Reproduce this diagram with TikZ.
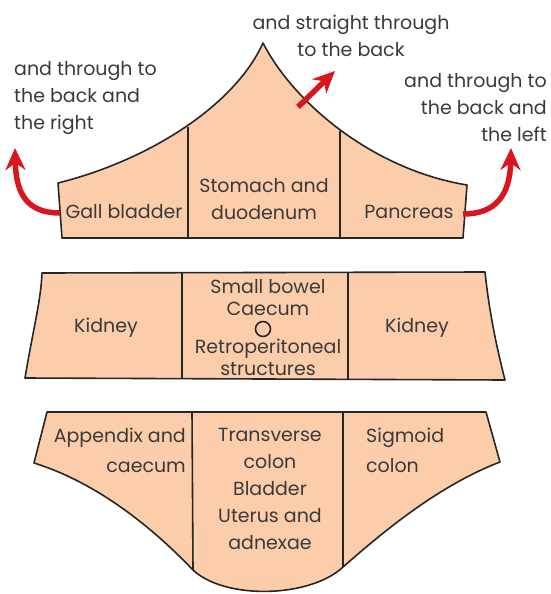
\documentclass[tikz,border=0pt]{standalone}
\usepackage{fontspec}
\setmainfont{Poppins}
\usetikzlibrary{arrows.meta}
\definecolor{peach}{HTML}{FBCDAB}
\definecolor{redarr}{HTML}{D9161F}
\definecolor{txt}{HTML}{3A3A3A}
\tikzset{
  organ/.style={fill=peach,draw=black!85,line width=1.6pt,line join=round},
  divider/.style={draw=black!85,line width=1.6pt},
  lbl/.style={inner sep=0pt,text=txt,font=\fontsize{19}{27}\selectfont},
  redarrow/.style={draw=redarr,line width=5.5pt,-{Stealth[length=22pt,width=20pt,inset=7pt]}}
}
\begin{document}
\begin{tikzpicture}[x=1pt,y=-1pt]
\useasboundingbox (0,0) rectangle (551,594);
% top region
\path[organ] (62,238) -- (58,183) .. controls (150,160) and (235,105) .. (263,43)
  .. controls (295,105) and (375,170) .. (467,185) -- (463,238) -- cycle;
\draw[divider] (188,127) -- (188,238);
\draw[divider] (340,131) -- (340,238);
% middle region
\path[organ] (25,378) .. controls (33,330) and (41,300) .. (42,273) -- (485,272)
  .. controls (489,310) and (496,345) .. (505,380) -- cycle;
\draw[divider] (182,272) -- (182,379);
\draw[divider] (348,272) -- (348,380);
% bottom region
\path[organ] (47,412) -- (486,412) -- (500,462) .. controls (440,485) and (385,530) .. (343,567)
  .. controls (310,598) and (225,600) .. (193,570)
  .. controls (150,525) and (95,482) .. (34,463) -- cycle;
\draw[divider] (192,412) -- (193,570);
\draw[divider] (343,412) -- (343,567);
% circle
\node[draw=black!85,line width=1.6pt,circle,minimum size=15pt,inner sep=0pt] (umb) at (263,329) {};
% top labels
\node[lbl] (gall) at (124,212) {Gall bladder};
\node[lbl,align=center] (stom) at (264,199) {Stomach and\\duodenum};
\node[lbl] (panc) at (409,212) {Pancreas};
% middle labels
\node[lbl] (kidl) at (106,328) {Kidney};
\node[lbl] (kidr) at (417,328) {Kidney};
\node[lbl] (sb) at (268,287) {Small bowel};
\node[lbl] (cae) at (268,309) {Caecum};
\node[lbl,align=center,font=\fontsize{19}{22}\selectfont] (retro) at (268,357) {Retroperitoneal\\structures};
% bottom labels
\node[lbl,align=right,anchor=east,font=\fontsize{19}{30}\selectfont] (app) at (186,450) {Appendix and\\caecum};
\node[lbl,align=center] (trans) at (270,489) {Transverse\\colon\\Bladder\\Uterus and\\adnexae};
\node[lbl,align=left,anchor=west,font=\fontsize{19}{30}\selectfont] (sig) at (366,450) {Sigmoid\\colon};
% direction labels
\node[lbl,align=left,anchor=west] (tl) at (14,98) {and through to\\the back and\\the right};
\node[lbl,align=center] (tc) at (351,36) {and straight through\\to the back};
\node[lbl,align=right,anchor=east] (tr) at (547,108) {and through to\\the back and\\the left};
% arrows
\coordinate (la0) at (60,213);
\coordinate (la1) at (15,148);
\coordinate (ra0) at (463,214);
\coordinate (ra1) at (511,148);
\coordinate (ma0) at (298,107);
\coordinate (ma1) at (335,71);
\draw[redarrow] (la0) .. controls (28,213) and (16,195) .. (la1);
\draw[redarrow] (ra0) .. controls (496,214) and (510,195) .. (ra1);
\draw[redarrow] (ma0) -- (ma1);
\end{tikzpicture}
\end{document}
